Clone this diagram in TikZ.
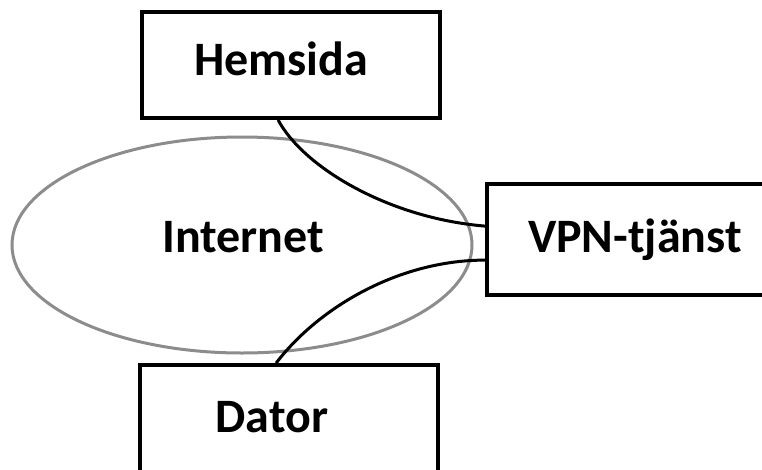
\documentclass[tikz,border=0pt]{standalone}
\usepackage{fontspec}
\setmainfont{Carlito}
\usetikzlibrary{calc,shapes.geometric}
\begin{document}
\begin{tikzpicture}[x=1pt,y=-1pt,
  box/.style={draw=black,line width=3.8pt,inner sep=0pt},
  cloud/.style={ellipse,draw=cloudgray,line width=3pt,inner sep=0pt},
  lbl/.style={anchor=base,inner sep=0pt,font=\bfseries\fontsize{48}{58}\selectfont},
  link/.style={draw=black,line width=3pt}]
\definecolor{cloudgray}{RGB}{140,140,140}
\useasboundingbox (0,0) rectangle (762,469);
\clip (0,0) rectangle (762,469);
\node[cloud,minimum width=460pt,minimum height=216pt] (net) at (242,245) {};
\node[box,minimum width=298pt,minimum height=106pt] (hem) at (291,65) {};
\node[box,minimum width=313pt,minimum height=111pt] (vpn) at (643.5,239.5) {};
\node[box,minimum width=298pt,minimum height=112pt] (dat) at (289,421) {};
\node[lbl] (them) at (281,75) {Hemsida};
\node[lbl] (tnet) at (243,252) {Internet};
\node[lbl] (tvpn) at (635,252) {VPN-tjänst};
\node[lbl] (tdat) at (272,432) {Dator};
\coordinate (h1) at ($(hem.south west)+(138,0)$);
\coordinate (v1) at ($(vpn.north west)+(0,44)$);
\coordinate (d1) at ($(dat.north west)+(138,0)$);
\coordinate (v2) at ($(vpn.north west)+(0,78)$);
\draw[link] (h1) .. controls +(25,47) and +(-97,-8) .. (v1);
\draw[link] (d1) .. controls +(42,-55) and +(-87,0) .. (v2);
\end{tikzpicture}
\end{document}
